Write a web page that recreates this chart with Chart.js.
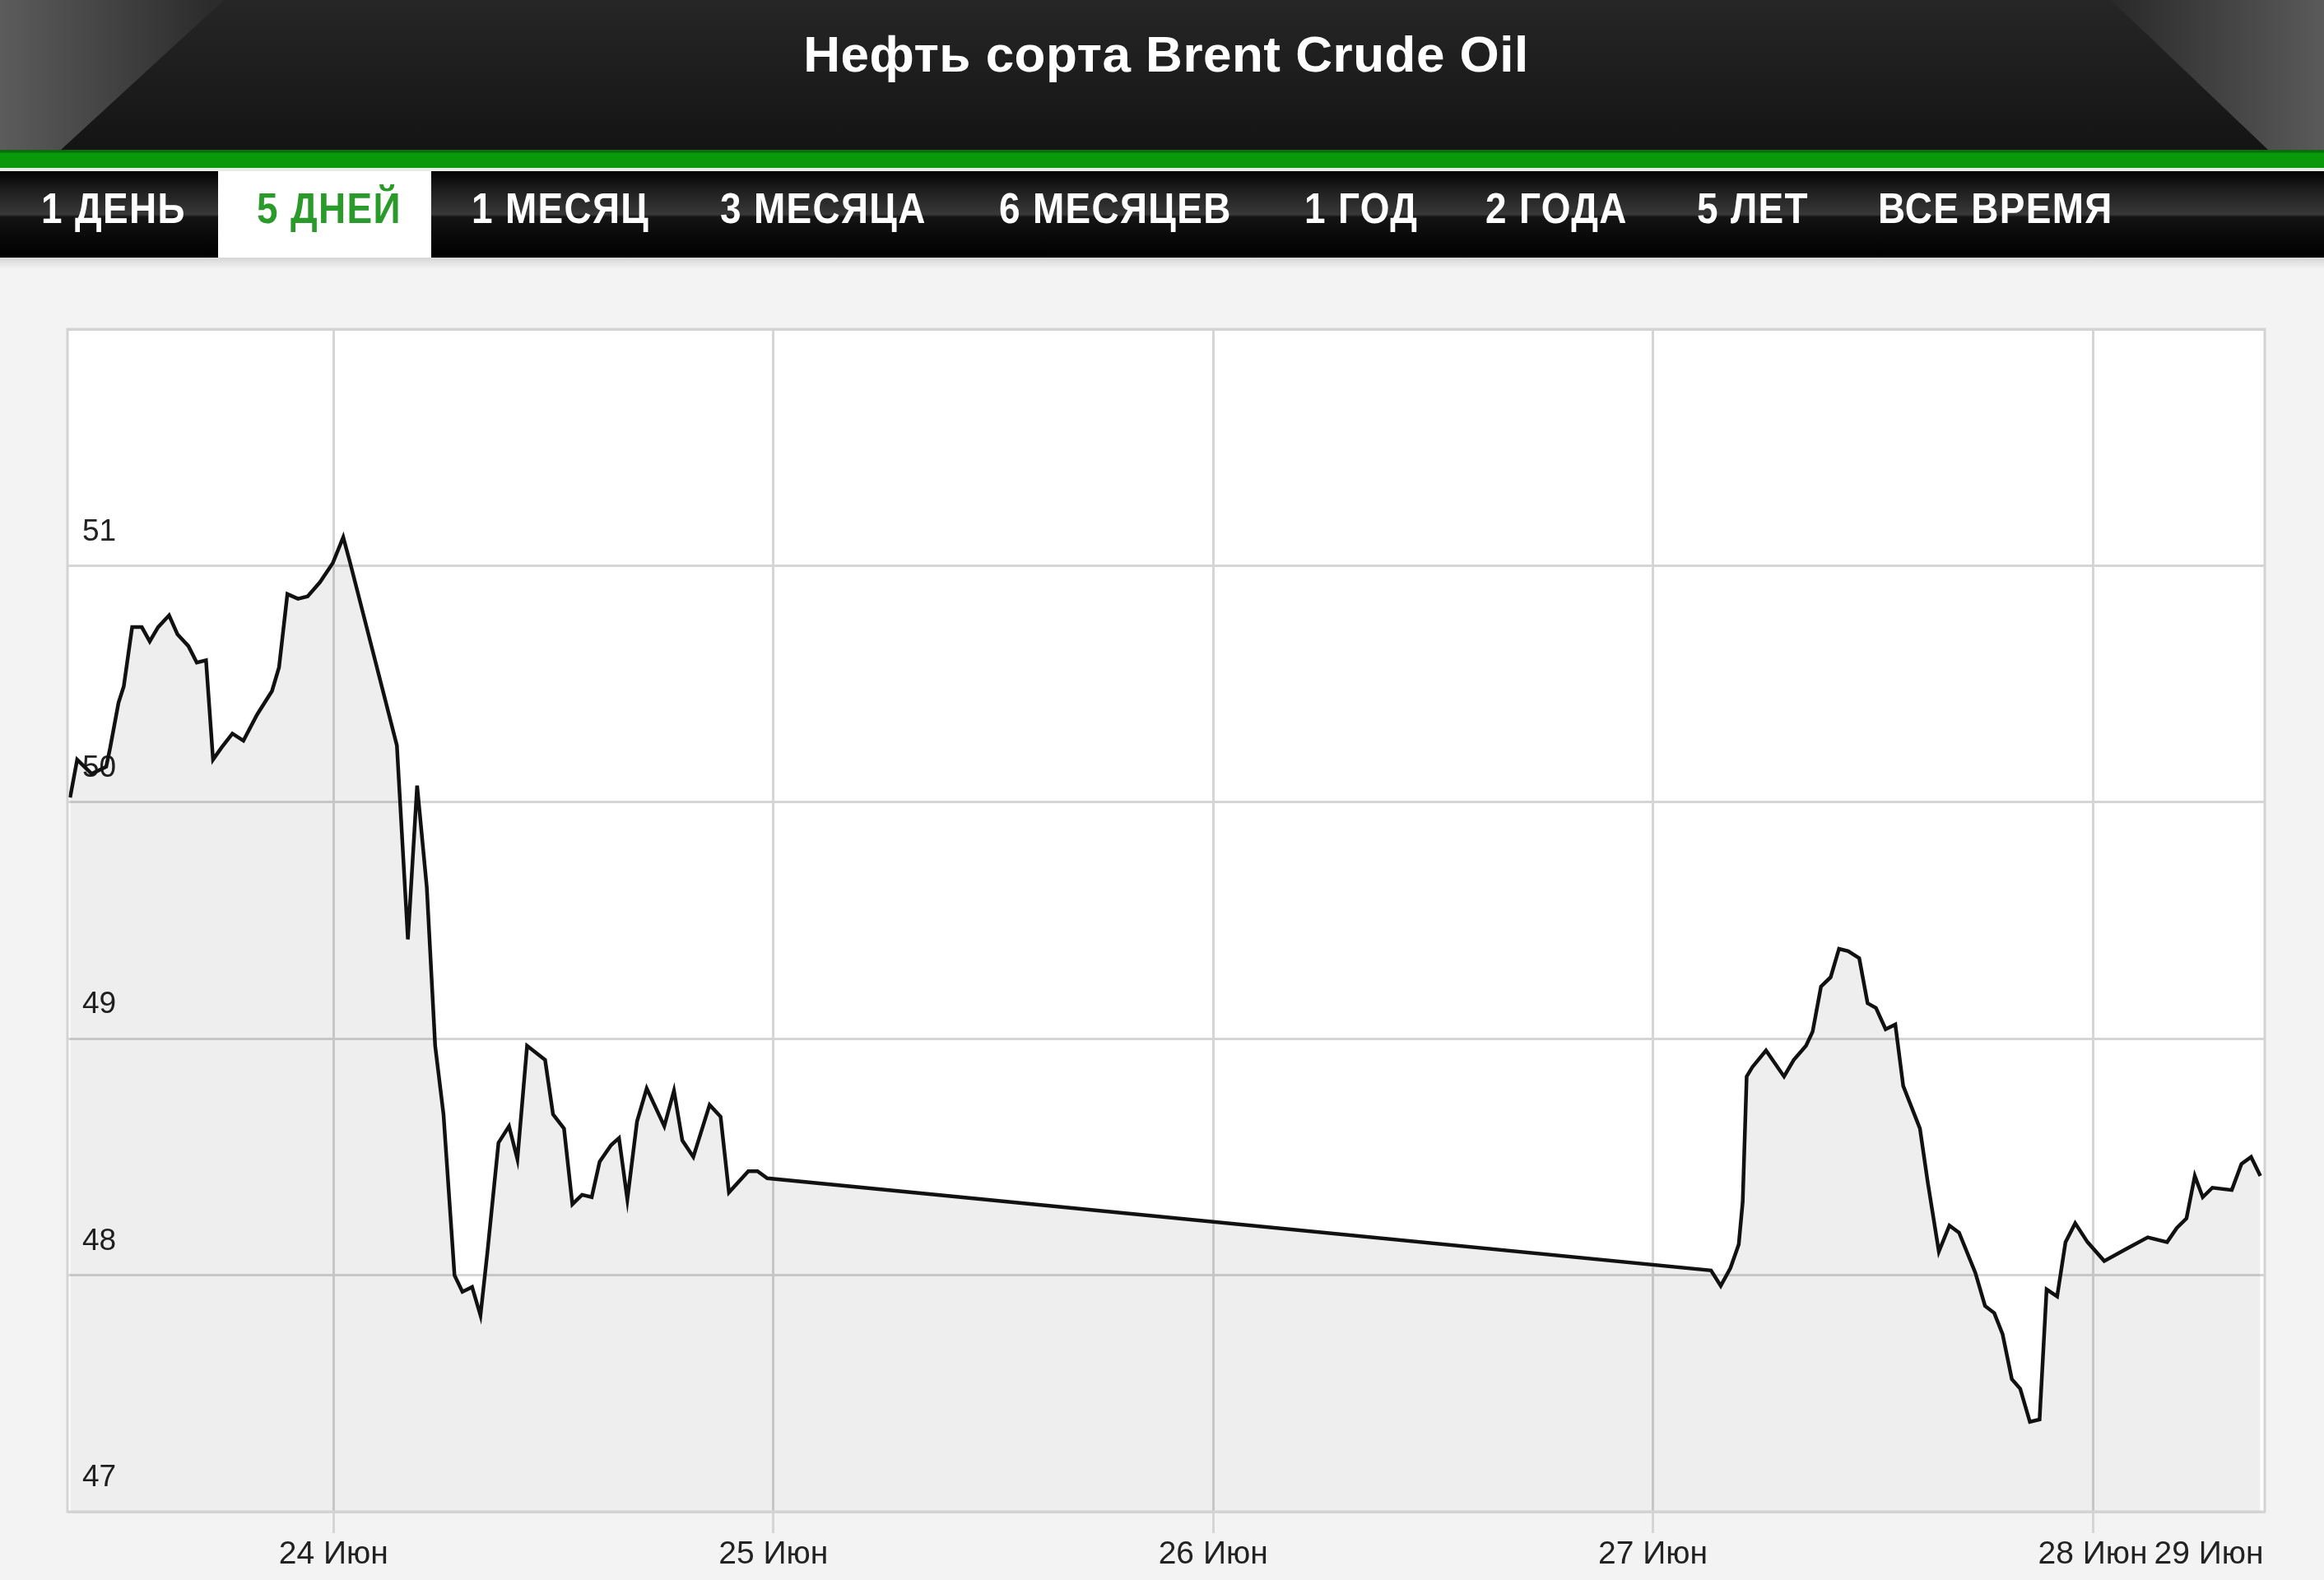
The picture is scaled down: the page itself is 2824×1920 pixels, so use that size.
<!DOCTYPE html>
<html>
<head>
<meta charset="utf-8">
<script src="https://cdn.jsdelivr.net/npm/chart.js@4.4.1/dist/chart.umd.min.js"></script>
<style>
  html, body { margin: 0; padding: 0; }
  body { width: 2824px; height: 1920px; background: #f3f3f3; position: relative; overflow: hidden;
         font-family: "Liberation Sans", Arial, sans-serif; }
  #header { position: absolute; left: 0; top: 0; width: 2824px; height: 182px;
            background: linear-gradient(#262626, #141414); }
  #decoL { position: absolute; left: 0; top: 0; width: 2824px; height: 182px;
           background: linear-gradient(to right, #5c5c5c, #2c2c2c 9%);
           clip-path: polygon(0 0, 272px 0, 74px 182px, 0 182px); }
  #decoR { position: absolute; left: 0; top: 0; width: 2824px; height: 182px;
           background: linear-gradient(to left, #5a5a5a, #2a2a2a 9%);
           clip-path: polygon(2565px 0, 2824px 0, 2824px 182px, 2756px 182px); }
  #title { position: absolute; left: 0; top: 0; width: 2834px; height: 132px; line-height: 132px;
           text-align: center; color: #fff; font-weight: bold; font-size: 62px; letter-spacing: 0.5px; }
  #green { position: absolute; left: 0; top: 182px; width: 2824px; height: 22px;
           background: linear-gradient(#0b6d0b 0, #0b6d0b 3px, #0a990a 4px, #0a990a 100%); }
  #sep { position: absolute; left: 0; top: 204px; width: 2824px; height: 4px; background: #e4ece4; }
  #tabs { position: absolute; left: 0; top: 208px; width: 2824px; height: 105px;
          background: linear-gradient(#030303 0%, #1e1e1e 22%, #383838 50%, #141414 53%, #050505 85%, #000 100%); }
  .tab { position: absolute; top: 0; height: 92px; line-height: 92px; color: #fff;
         font-weight: bold; font-size: 51px; letter-spacing: 1.5px; white-space: nowrap;
         transform: scaleX(0.9); transform-origin: 0 50%; }
  #active { position: absolute; left: 265px; top: 0; width: 259px; height: 105px; background: #fff; }
  #shadow { position: absolute; left: 0; top: 313px; width: 2824px; height: 14px;
            background: linear-gradient(#d6d6d6, #f3f3f3); }
  #wrap { position: absolute; left: 0; top: 313px; width: 2824px; height: 1607px; }
</style>
</head>
<body>
<div id="header"></div>
<div id="decoL"></div>
<div id="decoR"></div>
<div id="title">Нефть сорта Brent Crude Oil</div>
<div id="green"></div>
<div id="sep"></div>
<div id="tabs">
  <div id="active"></div>
  <div class="tab" style="left:50px">1 ДЕНЬ</div>
  <div class="tab" style="left:312px;color:#2a9a2a">5 ДНЕЙ</div>
  <div class="tab" style="left:573px">1 МЕСЯЦ</div>
  <div class="tab" style="left:875px">3 МЕСЯЦА</div>
  <div class="tab" style="left:1214px">6 МЕСЯЦЕВ</div>
  <div class="tab" style="left:1585px">1 ГОД</div>
  <div class="tab" style="left:1805px">2 ГОДА</div>
  <div class="tab" style="left:2062px">5 ЛЕТ</div>
  <div class="tab" style="left:2282px">ВСЕ ВРЕМЯ</div>
</div>
<div id="shadow"></div>
<div id="wrap"><canvas id="c" width="2824" height="1607"></canvas></div>
<script>
// time in fractional days of June (24.0 = 24 Jun 00:00)
const times = [
  23.401, 23.417, 23.450, 23.483, 23.492, 23.511, 23.523, 23.542, 23.564, 23.582,
  23.601, 23.626, 23.645, 23.670, 23.689, 23.710, 23.726, 23.745, 23.770, 23.795,
  23.826, 23.860, 23.876, 23.895, 23.919, 23.941, 23.969, 23.998, 24.022, 24.038,
  24.144, 24.169, 24.190, 24.212, 24.231, 24.250, 24.275, 24.293, 24.315, 24.334,
  24.350, 24.375, 24.399, 24.418, 24.440, 24.481, 24.499, 24.524, 24.543, 24.565,
  24.587, 24.605, 24.631, 24.649, 24.668, 24.690, 24.712, 24.752, 24.774, 24.793,
  24.818, 24.855, 24.880, 24.899, 24.943, 24.964, 24.986,
  27.132, 27.154, 27.176, 27.195, 27.204, 27.213, 27.226, 27.257, 27.298, 27.320,
  27.348, 27.363, 27.382, 27.404, 27.423, 27.444, 27.469, 27.488, 27.507, 27.529,
  27.551, 27.569, 27.607, 27.625, 27.650, 27.674, 27.696, 27.733, 27.755, 27.776,
  27.795, 27.816, 27.835, 27.857, 27.879, 27.895, 27.919, 27.938, 27.960, 27.988,
  28.026, 28.075, 28.125, 28.169, 28.191, 28.213, 28.232, 28.250, 28.272, 28.316,
  28.338, 28.360, 28.381
];
const prices = [
  50.02, 50.18, 50.12, 50.15, 50.23, 50.42, 50.49, 50.74, 50.74, 50.68,
  50.74, 50.79, 50.71, 50.66, 50.59, 50.60, 50.18, 50.23, 50.29, 50.26,
  50.37, 50.47, 50.57, 50.88, 50.86, 50.87, 50.93, 51.01, 51.12, 51.01,
  50.24, 49.42, 50.07, 49.64, 48.97, 48.68, 48.00, 47.93, 47.95, 47.83,
  48.10, 48.56, 48.63, 48.49, 48.97, 48.91, 48.68, 48.62, 48.30, 48.34,
  48.33, 48.48, 48.55, 48.58, 48.32, 48.65, 48.79, 48.63, 48.78, 48.57,
  48.50, 48.72, 48.67, 48.35, 48.44, 48.44, 48.41,
  48.02, 47.955, 48.03, 48.13, 48.31, 48.84, 48.88, 48.95, 48.84, 48.91,
  48.97, 49.03, 49.22, 49.26, 49.38, 49.37, 49.34, 49.15, 49.13, 49.04,
  49.06, 48.80, 48.62, 48.39, 48.10, 48.21, 48.18, 48.01, 47.87, 47.84,
  47.75, 47.56, 47.52, 47.38, 47.39, 47.94, 47.91, 48.14, 48.22, 48.14,
  48.06, 48.11, 48.16, 48.14, 48.20, 48.24, 48.42, 48.33, 48.37, 48.36,
  48.47, 48.50, 48.42
];
const xTickValues = [24, 25, 26, 27, 28, 28.264];
const xTickLabels = ["24 Июн", "25 Июн", "26 Июн", "27 Июн", "28 Июн", "29 Июн"];
const xGridShown = [true, true, true, true, true, false];
const yTickValues = [47, 48, 49, 50, 51, 52];
const yTickLabels = ["47", "48", "49", "50", "51", ""];

const FONT = "'Liberation Sans', Arial, sans-serif";
const GRID = '#d5d5d5';

const plotFrame = {
  id: 'plotFrame',
  beforeDraw(chart) {
    const a = chart.chartArea, ctx = chart.ctx;
    ctx.save();
    ctx.fillStyle = '#ffffff';
    ctx.fillRect(a.left, a.top, a.right - a.left, a.bottom - a.top);
    ctx.restore();
  },
  afterDraw(chart) {
    const a = chart.chartArea, ctx = chart.ctx;
    ctx.save();
    ctx.strokeStyle = '#d3d3d3';
    ctx.lineWidth = 3;
    ctx.strokeRect(a.left, a.top, a.right - a.left, a.bottom - a.top);
    ctx.restore();
  }
};

new Chart(document.getElementById('c'), {
  type: 'line',
  data: {
    datasets: [{
      data: times.map((t, i) => ({ x: t, y: prices[i] })),
      borderColor: '#111111',
      borderWidth: 4.5,
      backgroundColor: 'rgba(0,0,0,0.065)',
      fill: 'start',
      pointRadius: 0,
      tension: 0
    }]
  },
  options: {
    responsive: false,
    devicePixelRatio: 1,
    animation: false,
    layout: { padding: { left: 82, top: 87, right: 72, bottom: 0 } },
    plugins: { legend: { display: false }, tooltip: { enabled: false } },
    scales: {
      x: {
        type: 'linear',
        min: 23.395,
        max: 28.391,
        afterBuildTicks: s => { s.ticks = xTickValues.map(v => ({ value: v })); },
        afterFit: s => { s.height = 83; },
        border: { display: false },
        grid: {
          color: c => (c.index !== undefined && xGridShown[c.index] === false) ? 'rgba(0,0,0,0)' : GRID,
          lineWidth: 3,
          tickLength: 26,
          drawTicks: true
        },
        ticks: {
          autoSkip: false,
          maxRotation: 0,
          padding: 3,
          color: '#222',
          font: { family: FONT, size: 39 },
          callback: (v, i) => xTickLabels[i]
        }
      },
      y: {
        min: 47,
        max: 52,
        afterBuildTicks: s => { s.ticks = yTickValues.map(v => ({ value: v })); },
        afterFit: s => { s.width = 0; },
        border: { display: false },
        grid: { color: GRID, lineWidth: 3, drawTicks: false },
        ticks: {
          mirror: true,
          padding: 18,
          labelOffset: -41,
          color: '#222',
          font: { family: FONT, size: 37 },
          callback: (v, i) => yTickLabels[i]
        }
      }
    }
  },
  plugins: [plotFrame]
});
</script>
</body>
</html>
